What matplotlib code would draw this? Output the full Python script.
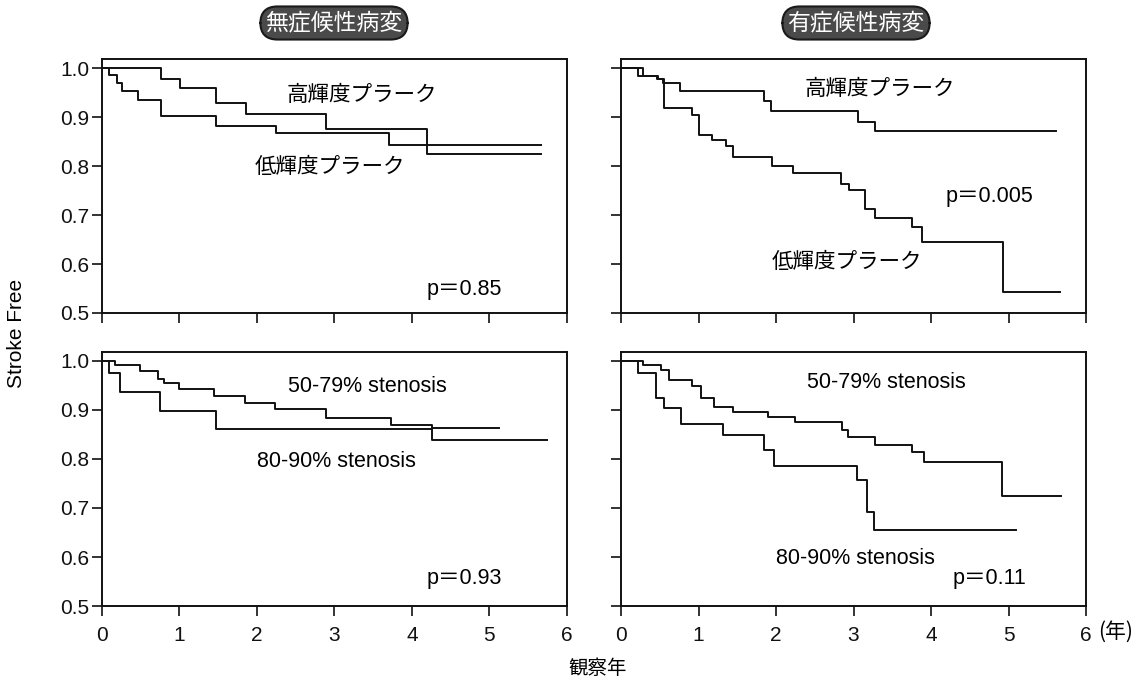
import matplotlib
matplotlib.use("Agg")
import matplotlib.pyplot as plt

plt.rcParams['font.family'] = ['Liberation Sans', 'Noto Sans CJK JP', 'DejaVu Sans']

# ---- data: Kaplan-Meier step curves (event times in years, survival after event) ----
# Top-left: 無症候性病変, plaque echogenicity
tl_high_t = [0, 0.77, 1.01, 1.47, 1.86, 2.89, 4.19, 5.67]
tl_high_s = [1.0, 0.978, 0.959, 0.929, 0.907, 0.875, 0.825, 0.825]
tl_low_t = [0, 0.09, 0.20, 0.26, 0.47, 0.77, 1.47, 2.25, 3.70, 5.67]
tl_low_s = [1.0, 0.985, 0.970, 0.953, 0.934, 0.902, 0.881, 0.868, 0.842, 0.842]

# Top-right: 有症候性病変, plaque echogenicity
tr_high_t = [0, 0.29, 0.48, 0.54, 0.76, 1.84, 1.94, 3.06, 3.28, 5.61]
tr_high_s = [1.0, 0.983, 0.977, 0.970, 0.953, 0.933, 0.912, 0.891, 0.871, 0.871]
tr_low_t = [0, 0.22, 0.46, 0.56, 0.92, 1.00, 1.17, 1.36, 1.44, 1.95, 2.22,
            2.84, 2.94, 3.15, 3.28, 3.76, 3.88, 4.93, 5.66]
tr_low_s = [1.0, 0.983, 0.977, 0.919, 0.904, 0.864, 0.854, 0.840, 0.819, 0.800, 0.786,
            0.764, 0.752, 0.713, 0.694, 0.675, 0.645, 0.543, 0.543]

# Bottom-left: 無症候性病変, stenosis degree
bl_mod_t = [0, 0.17, 0.49, 0.73, 0.80, 1.00, 1.45, 1.85, 2.24, 2.89, 3.73, 4.26, 5.12]
bl_mod_s = [1.0, 0.991, 0.978, 0.963, 0.954, 0.942, 0.927, 0.913, 0.901, 0.883, 0.868, 0.862, 0.862]
bl_sev_t = [0, 0.09, 0.24, 0.75, 1.47, 4.26, 5.74]
bl_sev_s = [1.0, 0.974, 0.935, 0.898, 0.861, 0.839, 0.839]

# Bottom-right: 有症候性病変, stenosis degree
br_mod_t = [0, 0.28, 0.52, 0.62, 0.92, 1.03, 1.20, 1.45, 1.90, 2.25, 2.85, 2.93,
            3.28, 3.75, 3.91, 4.92, 5.68]
br_mod_s = [1.0, 0.990, 0.980, 0.961, 0.949, 0.924, 0.906, 0.896, 0.886, 0.874, 0.859, 0.844,
            0.829, 0.813, 0.793, 0.725, 0.725]
br_sev_t = [0, 0.22, 0.45, 0.56, 0.77, 1.32, 1.85, 1.97, 3.05, 3.17, 3.27, 5.10]
br_sev_s = [1.0, 0.975, 0.924, 0.903, 0.870, 0.848, 0.818, 0.785, 0.757, 0.691, 0.655, 0.655]

yticks = [0.5, 0.6, 0.7, 0.8, 0.9, 1.0]
ytick_labels = ["0.5", "0.6", "0.7", "0.8", "0.9", "1.0"]
xticks = [0, 1, 2, 3, 4, 5, 6]
xtick_labels = ["0", "1", "2", "3", "4", "5", "6"]

panel_titles = ["無症候性病変", "有症候性病変"]
plaque_labels = ["高輝度プラーク", "低輝度プラーク"]
stenosis_labels = ["50-79% stenosis", "80-90% stenosis"]
pvalues = ["p＝0.85", "p＝0.005", "p＝0.93", "p＝0.11"]

W, H = 1141, 684
fig = plt.figure(figsize=(W / 100, H / 100), dpi=100)
fig.patch.set_facecolor('white')

def px_axes(l, r, t, b):
    return fig.add_axes([l / W, 1 - b / H, (r - l) / W, (b - t) / H])

ax_tl = px_axes(101.7, 567, 59.3, 313)
ax_tr = px_axes(621, 1086, 59.3, 313)
ax_bl = px_axes(101.7, 567, 351.7, 606.3)
ax_br = px_axes(621, 1086, 351.7, 606.3)

LW = 1.4
for ax in (ax_tl, ax_tr, ax_bl, ax_br):
    ax.set_xlim(0, 6)
    ax.set_ylim(0.5, 1.018)
    ax.set_yticks(yticks)
    ax.set_xticks(xticks)
    ax.tick_params(direction='out', length=7, width=1.2, labelsize=15, colors='#111111')
    ax.tick_params(axis='x', pad=7)
    ax.tick_params(axis='y', pad=2)
    for sp in ax.spines.values():
        sp.set_linewidth(1.4)
        sp.set_color('#111111')

ax_tl.set_yticklabels(ytick_labels)
ax_bl.set_yticklabels(ytick_labels)
ax_tr.set_yticklabels([])
ax_br.set_yticklabels([])
ax_tl.set_xticklabels([])
ax_tr.set_xticklabels([])
ax_bl.set_xticklabels(xtick_labels)
ax_br.set_xticklabels(xtick_labels)

curves = [
    (ax_tl, tl_high_t, tl_high_s), (ax_tl, tl_low_t, tl_low_s),
    (ax_tr, tr_high_t, tr_high_s), (ax_tr, tr_low_t, tr_low_s),
    (ax_bl, bl_mod_t, bl_mod_s), (ax_bl, bl_sev_t, bl_sev_s),
    (ax_br, br_mod_t, br_mod_s), (ax_br, br_sev_t, br_sev_s),
]
for ax, t, s in curves:
    ax.step(t, s, where='post', color='#111111', lw=LW)

fs = 15.5
ax_tl.text(3.35, 0.945, plaque_labels[0], ha='center', va='center', fontsize=fs)
ax_tl.text(2.94, 0.797, plaque_labels[1], ha='center', va='center', fontsize=fs)
ax_tl.text(4.68, 0.548, pvalues[0], ha='center', va='center', fontsize=fs)

ax_tr.text(3.34, 0.956, plaque_labels[0], ha='center', va='center', fontsize=fs)
ax_tr.text(4.76, 0.738, pvalues[1], ha='center', va='center', fontsize=fs)
ax_tr.text(2.91, 0.603, plaque_labels[1], ha='center', va='center', fontsize=fs)

ax_bl.text(3.43, 0.947, stenosis_labels[0], ha='center', va='center', fontsize=fs)
ax_bl.text(3.03, 0.794, stenosis_labels[1], ha='center', va='center', fontsize=fs)
ax_bl.text(4.68, 0.556, pvalues[2], ha='center', va='center', fontsize=fs)

ax_br.text(3.43, 0.955, stenosis_labels[0], ha='center', va='center', fontsize=fs)
ax_br.text(3.02, 0.598, stenosis_labels[1], ha='center', va='center', fontsize=fs)
ax_br.text(4.76, 0.556, pvalues[3], ha='center', va='center', fontsize=fs)

badge = dict(boxstyle='round,pad=0.22,rounding_size=0.75', facecolor='#4a4a4a',
             edgecolor='#1a1a1a', linewidth=1.5)
fig.text(334 / W, 1 - 23 / H, panel_titles[0], ha='center', va='center', fontsize=16.5,
         color='white', bbox=badge, family=['Noto Sans CJK JP'])
fig.text(856 / W, 1 - 23 / H, panel_titles[1], ha='center', va='center', fontsize=16.5,
         color='white', bbox=badge, family=['Noto Sans CJK JP'])

fig.text(17 / W, 1 - 333 / H, "Stroke Free", rotation=90, ha='center', va='center',
         fontsize=15)
fig.text(598 / W, 1 - 668 / H, "観察年", ha='center', va='center', fontsize=14,
         family=['Noto Sans CJK JP'])
fig.text(1116 / W, 1 - 632 / H, "(年)", ha='center', va='center', fontsize=15,
         family=['Noto Sans CJK JP'])

fig.savefig("out.png", dpi=100, facecolor='white')
